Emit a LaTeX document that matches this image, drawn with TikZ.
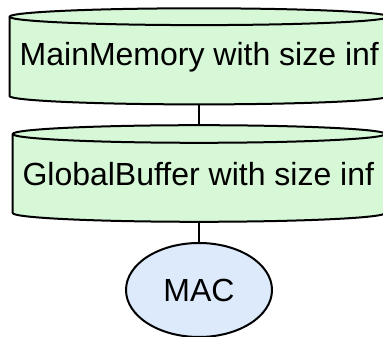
\documentclass[tikz,border=0pt]{standalone}
\usepackage{fontspec}
\setmainfont{Liberation Sans}
\usetikzlibrary{shapes.geometric}
\definecolor{memfill}{HTML}{D6F8D6}
\definecolor{macfill}{HTML}{DCEAFC}
\tikzset{
  store/.style={fill=memfill, draw=black, line width=2pt, line join=round},
  rim/.style={draw=black, line width=2pt},
  label/.style={anchor=base, inner sep=0pt, font=\fontsize{32}{36}\selectfont},
  unit/.style={ellipse, draw=black, fill=macfill, line width=2pt,
    minimum width=146pt, minimum height=94pt, inner sep=0pt,
    font=\fontsize{32}{36}\selectfont},
  link/.style={draw=black, line width=2pt}
}
\begin{document}
\begin{tikzpicture}[x=1pt, y=1pt]
  \useasboundingbox (0,0) rectangle (383,337);

  % MainMemory cylinder
  \path[store] (9.5,320.3) -- (9.5,241)
    arc[start angle=180, end angle=360, x radius=189.5pt, y radius=8.4pt]
    -- (388.5,320.3)
    arc[start angle=0, end angle=180, x radius=189.5pt, y radius=8.4pt] -- cycle;
  \path[rim] (9.5,320.3)
    arc[start angle=180, end angle=360, x radius=189.5pt, y radius=8.4pt];
  \node[label] (mainmem) at (199.3,271) {MainMemory with size inf};
  \coordinate (mainmem-bottom) at (199,232.6);

  % GlobalBuffer cylinder
  \path[store] (12.7,203) -- (12.7,124)
    arc[start angle=180, end angle=360, x radius=186.3pt, y radius=8.8pt]
    -- (385.3,203)
    arc[start angle=0, end angle=180, x radius=186.3pt, y radius=8.8pt] -- cycle;
  \path[rim] (12.7,203)
    arc[start angle=180, end angle=360, x radius=186.3pt, y radius=8.8pt];
  \node[label] (globalbuf) at (198.3,151) {GlobalBuffer with size inf};
  \coordinate (globalbuf-top) at (199,211.8);
  \coordinate (globalbuf-bottom) at (199,115.2);

  % compute unit
  \node[unit] (mac) at (199,47) {MAC};

  % connections
  \draw[link] (mainmem-bottom) -- (globalbuf-top);
  \draw[link] (globalbuf-bottom) -- (mac.north);
\end{tikzpicture}
\end{document}
